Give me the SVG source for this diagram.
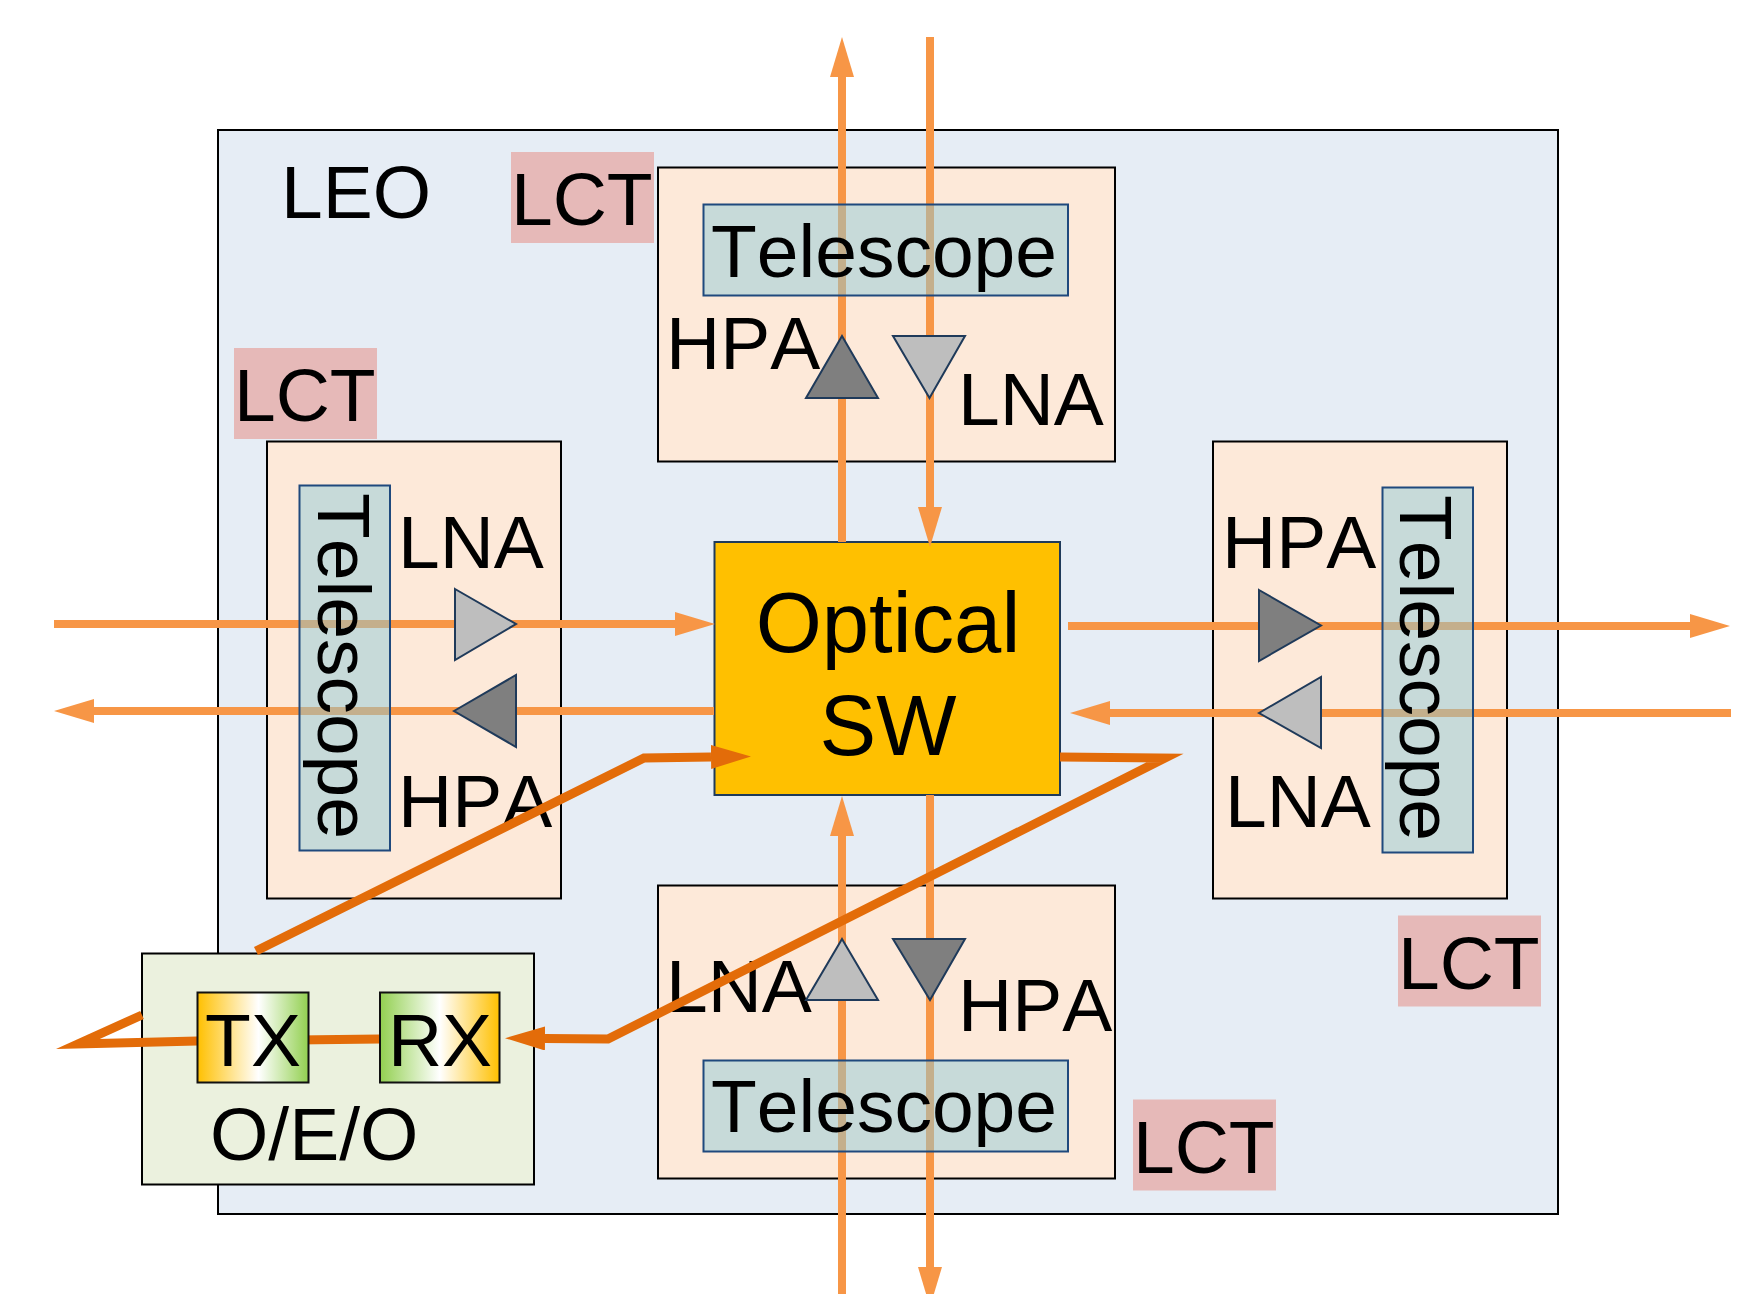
<svg xmlns="http://www.w3.org/2000/svg" width="1748" height="1294" viewBox="0 0 1748 1294">
<style>
text{font-family:"Liberation Sans",Arial,sans-serif;font-size:75px;font-kerning:none;fill:#000}
.box{stroke:#000;stroke-width:2}
.lct{fill:#FDE9D9}
.tag{fill:#E6B9B8}
.tel{fill:#8BCAD9;fill-opacity:.48;stroke:#1F497D;stroke-width:2}
.hi{fill:#BEBEBE;stroke:#1F3A5A;stroke-width:2}
.lo{fill:#7F7F7F;stroke:#1F3A5A;stroke-width:2}
.l{fill:none;stroke:#F79646;stroke-width:8}
.d{fill:none;stroke:#E36C09;stroke-width:9;stroke-miterlimit:20}
.la{marker-end:url(#ha)}
.da{marker-end:url(#hd)}
</style>
<defs>
<marker id="ha" markerUnits="userSpaceOnUse" markerWidth="40" markerHeight="24" refX="0" refY="12" orient="auto"><path d="M0,0L40,12L0,24z" fill="#F79646"/></marker>
<marker id="hd" markerUnits="userSpaceOnUse" markerWidth="40" markerHeight="24" refX="0" refY="12" orient="auto"><path d="M0,0L40,12L0,24z" fill="#E36C09"/></marker>
<linearGradient id="gt"><stop offset="0" stop-color="#FFC000"/><stop offset=".55" stop-color="#fff"/><stop offset="1" stop-color="#92D050"/></linearGradient>
<linearGradient id="gr"><stop offset="0" stop-color="#92D050"/><stop offset=".5" stop-color="#fff"/><stop offset="1" stop-color="#FFC000"/></linearGradient>
</defs>
<g id="leo"><rect class="box" x="218" y="130" width="1340" height="1084" fill="#E6EDF5"/><text x="281" y="218">LEO</text></g>
<g id="lct-top"><rect class="box lct" x="658" y="167.500" width="457" height="294"/><rect class="tag" x="511" y="152" width="143" height="91"/><text x="511" y="225">LCT</text><text x="666" y="369">HPA</text><text x="958" y="425">LNA</text></g>
<g id="lct-left"><rect class="box lct" x="267" y="441.500" width="294" height="457"/><rect class="tag" x="234" y="348" width="143" height="91"/><text x="234" y="421">LCT</text><text x="398" y="568">LNA</text><text x="398" y="827">HPA</text></g>
<g id="lct-right"><rect class="box lct" x="1213" y="441.500" width="294" height="457"/><rect class="tag" x="1398" y="915.500" width="143" height="91"/><text x="1398" y="989">LCT</text><text x="1222" y="568">HPA</text><text x="1225" y="827">LNA</text></g>
<g id="lct-bottom"><rect class="box lct" x="658" y="885.500" width="457" height="293"/><rect class="tag" x="1133" y="1099.500" width="143" height="91"/><text x="1133" y="1173">LCT</text><text x="666" y="1012">LNA</text><text x="958" y="1031">HPA</text></g>
<g id="optical-sw"><rect x="714.500" y="542" width="345.500" height="253" fill="#FFC000" stroke="#1F3A5A" stroke-width="2"/><text x="888" y="652" text-anchor="middle" style="font-size:85px">Optical</text><text x="888" y="755" text-anchor="middle" style="font-size:85px">SW</text></g>
<g id="oeo"><rect class="box" x="142" y="953.500" width="392" height="231" fill="#EBF1DE"/><text x="210" y="1160">O/E/O</text></g>
<g id="connectors">
<path class="l la" d="M842 542V77"/>
<path class="l la" d="M930 37V507"/>
<path class="l la" d="M54 624H675"/>
<path class="l la" d="M714 711H94"/>
<path class="l la" d="M1068 626H1690"/>
<path class="l la" d="M1731 713H1110"/>
<path class="l la" d="M842 1294V836"/>
<path class="l la" d="M930 795V1267"/>
<path class="d da" d="M256 951L644 758L711 757"/>
<path class="d da" d="M1060 757L1165 758L608 1039L545 1038.500"/>
<path class="d" d="M380 1039L197 1041L78 1044L142 1015"/>
</g>
<g id="telescope-top"><rect class="tel" x="703.500" y="204.500" width="364.500" height="91"/><text x="711" y="277">Telescope</text></g>
<g id="telescope-left"><rect class="tel" x="299.500" y="485.500" width="90.500" height="365"/><text transform="translate(318 493) rotate(90)">Telescope</text></g>
<g id="telescope-right"><rect class="tel" x="1382.500" y="487.500" width="90.500" height="365"/><text transform="translate(1400 495) rotate(90)">Telescope</text></g>
<g id="telescope-bottom"><rect class="tel" x="703.500" y="1060.500" width="364.500" height="91"/><text x="711" y="1132">Telescope</text></g>
<g id="hpa-top"><path class="lo" d="M842 336L878 398H806z"/></g>
<g id="lna-top"><path class="hi" d="M893 336H965L929.500 398z"/></g>
<g id="lna-left"><path class="hi" d="M455 589L516 624L455 660z"/></g>
<g id="hpa-left"><path class="lo" d="M454 711L516 675V747z"/></g>
<g id="hpa-right"><path class="lo" d="M1259 590L1321 625.500L1259 661z"/></g>
<g id="lna-right"><path class="hi" d="M1259 713L1321 677V748z"/></g>
<g id="lna-bottom"><path class="hi" d="M842 939L878 1000H806z"/></g>
<g id="hpa-bottom"><path class="lo" d="M893 939H965L930 1000z"/></g>
<g id="tx"><rect x="197.500" y="992.500" width="111" height="90" fill="url(#gt)" stroke="#111" stroke-width="2"/><text x="253" y="1066" text-anchor="middle">TX</text></g>
<g id="rx"><rect x="380" y="992.500" width="119.500" height="90" fill="url(#gr)" stroke="#111" stroke-width="2"/><text x="440" y="1066" text-anchor="middle">RX</text></g>
</svg>
